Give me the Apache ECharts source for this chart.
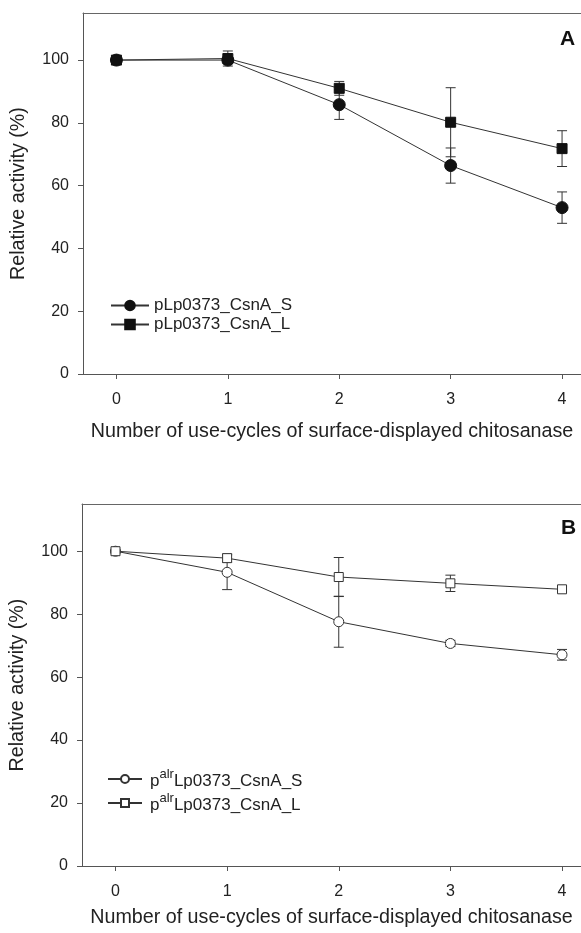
<!DOCTYPE html>
<html>
<head>
<meta charset="utf-8">
<script src="https://cdn.jsdelivr.net/npm/echarts@6/dist/echarts.min.js"></script>
<style>
html,body{margin:0;padding:0;background:#fff;}
#chart{width:581px;height:933px;}
</style>
</head>
<body>
<div id="chart"></div>
<script>
// ---- data ----
const cycles = [0, 1, 2, 3, 4];
const xTicks = [0, 1, 2, 3, 4];
const yTicks = [0, 20, 40, 60, 80, 100];

const nameAS = 'pLp0373_CsnA_S';
const nameAL = 'pLp0373_CsnA_L';
const nameBS = 'palrLp0373_CsnA_S';
const nameBL = 'palrLp0373_CsnA_L';

const aS    = [100, 100.0, 85.8, 66.4, 53.0];
const aSErr = [0,   1.2,   4.7,  5.6,  5.0];
const aL    = [100, 100.5, 91.0, 80.2, 71.8];
const aLErr = [0,   2.4,   2.2,  11.0, 5.7];

const bS    = [100, 93.3, 77.6, 70.7, 67.1];
const bSErr = [0,   5.5,  8.1,  1.0,  1.7];
const bL    = [100, 97.8, 91.8, 89.8, 87.9];
const bLErr = [0,   1.3,  6.2,  2.6,  0.85];

const xAxisTitle = 'Number of use-cycles of surface-displayed chitosanase';
const yAxisTitle = 'Relative activity (%)';

// ---- chart ----
const FONT = "'Liberation Sans', Arial, sans-serif";
const TXT = '#222';
const AX = '#555';
const XMIN = -0.3, XMAX = 4.17;

function pairs(vals) { return cycles.map((c, i) => [c, vals[i]]); }
function errData(vals, errs) {
  return cycles.map((c, i) => [c, vals[i] - errs[i], vals[i] + errs[i], errs[i]]);
}
function errRender(params, api) {
  if (api.value(3) <= 0) return null;
  const x = api.value(0);
  const pLo = api.coord([x, api.value(1)]);
  const pHi = api.coord([x, api.value(2)]);
  const w = 5;
  const st = { stroke: '#333', lineWidth: 1 };
  return {
    type: 'group',
    children: [
      { type: 'line', shape: { x1: pLo[0], y1: pLo[1], x2: pHi[0], y2: pHi[1] }, style: st },
      { type: 'line', shape: { x1: pHi[0] - w, y1: pHi[1], x2: pHi[0] + w, y2: pHi[1] }, style: st },
      { type: 'line', shape: { x1: pLo[0] - w, y1: pLo[1], x2: pLo[0] + w, y2: pLo[1] }, style: st }
    ]
  };
}

function xAxisCfg(gi, margin, gap) {
  return {
    type: 'value', gridIndex: gi, min: XMIN, max: XMAX, position: 'bottom',
    axisLine: { show: true, onZero: false, lineStyle: { color: AX, width: 1 } },
    axisTick: { show: true, customValues: xTicks, length: 5, lineStyle: { color: AX } },
    axisLabel: { customValues: xTicks, margin: margin, fontSize: 16, color: TXT, fontFamily: FONT },
    splitLine: { show: false },
    name: xAxisTitle, nameLocation: 'middle', nameGap: gap,
    nameTextStyle: { fontSize: 19.7, color: TXT, fontFamily: FONT }
  };
}
function topAxisCfg(gi) {
  return {
    type: 'value', gridIndex: gi, min: XMIN, max: XMAX, position: 'top',
    axisLine: { show: true, onZero: false, lineStyle: { color: '#666', width: 1 } },
    axisTick: { show: false }, axisLabel: { show: false }, splitLine: { show: false }
  };
}
function yAxisCfg(gi) {
  return {
    type: 'value', gridIndex: gi, min: 0, max: 115,
    axisLine: { show: true, onZero: false, lineStyle: { color: AX, width: 1 } },
    axisTick: { show: true, customValues: yTicks, length: 5, lineStyle: { color: AX } },
    axisLabel: { customValues: yTicks, margin: 14, fontSize: 16, color: TXT, fontFamily: FONT },
    splitLine: { show: false },
    name: yAxisTitle, nameLocation: 'middle', nameGap: 54,
    nameTextStyle: { fontSize: 19.7, color: TXT, fontFamily: FONT }
  };
}

function lineSeries(name, vals, gi, symbol, size, filled) {
  return {
    type: 'line', name: name, xAxisIndex: gi, yAxisIndex: gi,
    data: pairs(vals), symbol: symbol, symbolSize: size, showAllSymbol: true,
    lineStyle: { color: '#333', width: 1 },
    itemStyle: filled ? { color: '#111', borderColor: '#111', borderWidth: 1 }
                      : { color: '#fff', borderColor: '#333', borderWidth: 1 },
    z: 3, animation: false
  };
}
function errSeries(vals, errs, gi) {
  return {
    type: 'custom', xAxisIndex: gi, yAxisIndex: gi,
    data: errData(vals, errs), renderItem: errRender,
    encode: { x: 0, y: [1, 2] }, z: 2, silent: true, animation: false
  };
}

const chart = echarts.init(document.getElementById('chart'), null, { renderer: 'canvas' });
chart.setOption({
  animation: false,
  backgroundColor: '#fff',
  textStyle: { fontFamily: FONT },
  grid: [
    { left: 83, right: 0, top: 13, bottom: 559, outerBoundsMode: 'none', containLabel: false },
    { left: 82, right: 0, top: 504, bottom: 67, outerBoundsMode: 'none', containLabel: false }
  ],
  xAxis: [xAxisCfg(0, 18, 48), xAxisCfg(1, 18, 42), topAxisCfg(0), topAxisCfg(1)],
  yAxis: [yAxisCfg(0), yAxisCfg(1)],
  title: [
    { text: 'A', left: 555, top: 24, textStyle: { fontSize: 21, fontWeight: 'bold', color: '#111', fontFamily: FONT } },
    { text: 'B', left: 556, top: 513, textStyle: { fontSize: 21, fontWeight: 'bold', color: '#111', fontFamily: FONT } }
  ],
  legend: [
    {
      data: [nameAS, nameAL], orient: 'vertical', left: 105, top: 292,
      itemWidth: 38, itemHeight: 12, itemGap: 2,
      textStyle: { fontSize: 17, color: TXT, fontFamily: FONT, padding: [0, 0, 0, 0] },
      selectedMode: false
    },
    {
      data: [nameBS, nameBL], orient: 'vertical', left: 102, top: 763,
      itemWidth: 34, itemHeight: 10, itemGap: 2,
      formatter: function (n) { return '{a|p}{s|alr}{a|' + n.slice(4) + '}'; },
      textStyle: {
        fontSize: 17, color: TXT, fontFamily: FONT, padding: [0, 0, 0, 3],
        rich: {
          a: { fontSize: 17, color: TXT, fontFamily: FONT, lineHeight: 22, verticalAlign: 'bottom' },
          s: { fontSize: 13, color: TXT, fontFamily: FONT, lineHeight: 22, verticalAlign: 'top' }
        }
      },
      selectedMode: false
    }
  ],
  series: [
    errSeries(aS, aSErr, 0), errSeries(aL, aLErr, 0),
    lineSeries(nameAS, aS, 0, 'circle', 12, true),
    lineSeries(nameAL, aL, 0, 'rect', 10, true),
    errSeries(bS, bSErr, 1), errSeries(bL, bLErr, 1),
    lineSeries(nameBS, bS, 1, 'circle', 10, false),
    lineSeries(nameBL, bL, 1, 'rect', 9, false)
  ]
});
</script>
</body>
</html>
